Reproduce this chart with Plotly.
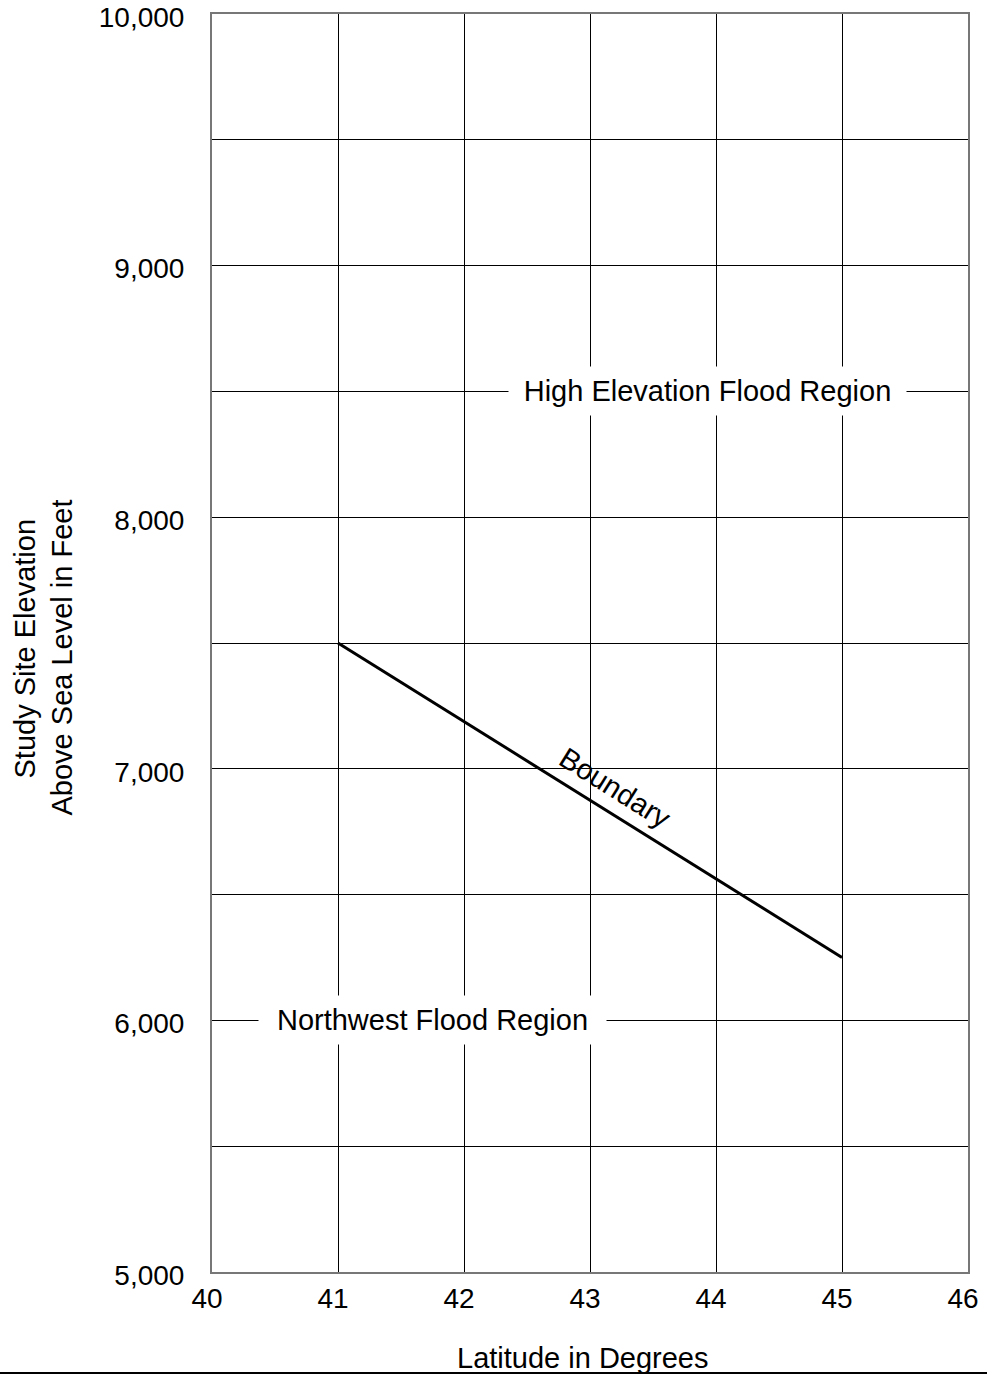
import plotly.graph_objects as go

# Data
boundary_lat = [41, 45]
boundary_elev = [7500, 6250]

x_ticks = [40, 41, 42, 43, 44, 45, 46]
x_tick_labels = ["40", "41", "42", "43", "44", "45", "46"]
y_ticks = [5000, 6000, 7000, 8000, 9000, 10000]
y_tick_labels = ["5,000", "6,000", "7,000", "8,000", "9,000", "10,000"]
y_minor = [5500, 6500, 7500, 8500, 9500]

region_labels = ["High Elevation Flood Region", "Northwest Flood Region"]
region_x = [43.935, 41.75]
region_y = [8500, 6000]
region_box_w = [381, 331]

y_title_lines = ["Study Site Elevation", "Above Sea Level in Feet"]

FONT = "Liberation Sans, Arial, Helvetica, sans-serif"

fig = go.Figure()
fig.add_trace(go.Scatter(
    x=boundary_lat, y=boundary_elev, mode="lines",
    line=dict(color="black", width=3), showlegend=False, hoverinfo="skip"))

fig.update_xaxes(
    range=[40, 46], tickvals=x_ticks, ticktext=x_tick_labels,
    showgrid=True, gridcolor="black", gridwidth=1,
    showline=True, linecolor="#777777", linewidth=2, mirror=True,
    ticks="", zeroline=False, ticklabelstandoff=0, ticklabelshift=-5,
    ticklabeloverflow="allow", automargin=False,
    tickfont=dict(family=FONT, size=28, color="black"))
fig.update_yaxes(
    range=[5000, 10000], tickvals=y_ticks, ticktext=y_tick_labels,
    showgrid=True, gridcolor="black", gridwidth=1,
    minor=dict(tickvals=y_minor, showgrid=True, gridcolor="black", gridwidth=1, ticks=""),
    showline=True, linecolor="#777777", linewidth=2, mirror=True,
    ticks="", zeroline=False, ticklabelstandoff=20, ticklabelshift=3,
    ticklabeloverflow="allow", automargin=False,
    tickfont=dict(family=FONT, size=28, color="black"))

for txt, xx, yy, bw in zip(region_labels, region_x, region_y, region_box_w):
    fig.add_annotation(x=xx, y=yy, text=txt, showarrow=False,
                       font=dict(family=FONT, size=29, color="black"),
                       bgcolor="white", borderpad=8, width=bw, height=32,
                       xanchor="center", yanchor="middle")

fig.add_annotation(x=43.20, y=6924, text="Boundary", showarrow=False,
                   textangle=32, font=dict(family=FONT, size=29, color="black"),
                   xanchor="center", yanchor="middle")

fig.add_annotation(xref="paper", yref="paper", x=0.4907, y=-0.0684,
                   xanchor="center", yanchor="middle",
                   text="Latitude in Degrees", showarrow=False,
                   font=dict(family=FONT, size=29, color="black"))
for txt, px, py in zip(y_title_lines, [-0.2474, -0.1984], [0.4956, 0.4885]):
    fig.add_annotation(xref="paper", yref="paper", x=px, y=py,
                       xanchor="center", yanchor="middle",
                       text=txt, textangle=-90, showarrow=False,
                       font=dict(family=FONT, size=29, color="black"))

fig.add_shape(type="line", xref="paper", yref="paper",
              x0=-212/756, x1=(987-212)/756, y0=-(1373-1272)/1258, y1=-(1373-1272)/1258,
              line=dict(color="black", width=2))

fig.update_layout(
    width=987, height=1376,
    margin=dict(l=212, r=19, t=14, b=104, autoexpand=False),
    plot_bgcolor="white", paper_bgcolor="white",
    font=dict(family=FONT, color="black"))

fig.write_html("out.html", config={"displayModeBar": False},
               post_script="document.body.style.margin='0';document.body.style.overflow='hidden';")
